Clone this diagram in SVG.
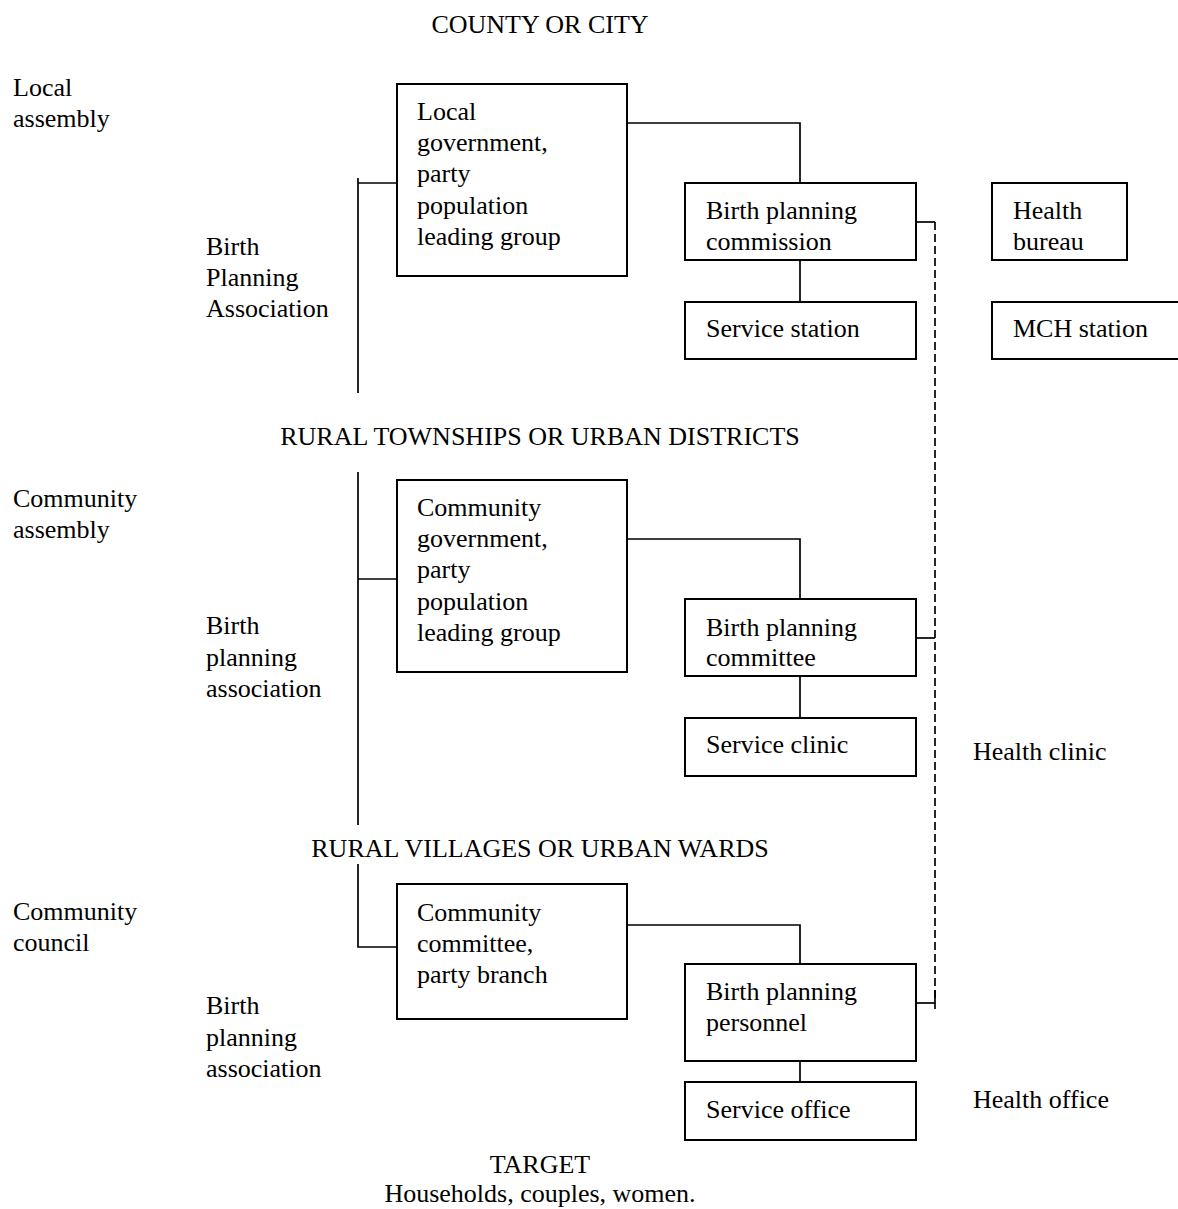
<svg xmlns="http://www.w3.org/2000/svg" width="1178" height="1209" viewBox="0 0 1178 1209">
<style>
text{font-family:"Liberation Serif","Times New Roman",serif;font-size:26px;fill:#000}
.c{text-anchor:middle}
.box{fill:#fff;stroke:#000;stroke-width:2}
.ln{fill:none;stroke:#000;stroke-width:1.7}
.dash{fill:none;stroke:#000;stroke-width:1.7;stroke-dasharray:8,4}
</style>
<defs>
<clipPath id="clipCommittee"><rect x="680" y="640" width="240" height="27"/></clipPath>
</defs>
<g id="connectors">
<polyline class="ln" points="358,178 358,393"/>
<line class="ln" x1="358" y1="183" x2="397" y2="183"/>
<polyline class="ln" points="627,123 800,123 800,183"/>
<line class="ln" x1="800" y1="260" x2="800" y2="302"/>
<line class="ln" x1="358" y1="472" x2="358" y2="825"/>
<line class="ln" x1="358" y1="579" x2="397" y2="579"/>
<polyline class="ln" points="627,539 800,539 800,599"/>
<line class="ln" x1="800" y1="676" x2="800" y2="718"/>
<polyline class="ln" points="358,864 358,947 397,947"/>
<polyline class="ln" points="627,925 800,925 800,964"/>
<line class="ln" x1="800" y1="1061" x2="800" y2="1087"/>
<line class="ln" x1="916" y1="222" x2="935" y2="222"/>
<line class="ln" x1="916" y1="638" x2="935" y2="638"/>
<line class="ln" x1="916" y1="1003" x2="935" y2="1003"/>
<line class="ln" x1="935" y1="990" x2="935" y2="1009"/>
<line class="dash" x1="935" y1="222" x2="935" y2="1000"/>
</g>
<g id="labels">
<text class="c" x="540" y="33">COUNTY OR CITY</text>
<text x="13" y="96">Local</text>
<text x="13" y="127">assembly</text>
<text x="206" y="255">Birth</text>
<text x="206" y="286">Planning</text>
<text x="206" y="317">Association</text>
<text class="c" x="540" y="445">RURAL TOWNSHIPS OR URBAN DISTRICTS</text>
<text x="13" y="507">Community</text>
<text x="13" y="538">assembly</text>
<text x="206" y="634">Birth</text>
<text x="206" y="666">planning</text>
<text x="206" y="697">association</text>
<text x="973" y="760">Health clinic</text>
<text class="c" x="540" y="857">RURAL VILLAGES OR URBAN WARDS</text>
<text x="13" y="920">Community</text>
<text x="13" y="951">council</text>
<text x="206" y="1014">Birth</text>
<text x="206" y="1046">planning</text>
<text x="206" y="1077">association</text>
<text x="973" y="1108">Health office</text>
<text class="c" x="540" y="1173">TARGET</text>
<text class="c" x="540" y="1202">Households, couples, women.</text>
</g>
<g id="local-government">
<rect class="box" x="397" y="84" width="230" height="192"/>
<text x="417" y="120">Local</text>
<text x="417" y="151">government,</text>
<text x="417" y="182">party</text>
<text x="417" y="214">population</text>
<text x="417" y="245">leading group</text>
</g>
<g id="birth-planning-commission">
<rect class="box" x="685" y="183" width="231" height="77"/>
<text x="706" y="219">Birth planning</text>
<text x="706" y="250">commission</text>
</g>
<g id="service-station">
<rect class="box" x="685" y="302" width="231" height="57"/>
<text x="706" y="337">Service station</text>
</g>
<g id="health-bureau">
<rect class="box" x="992" y="183" width="135" height="77"/>
<text x="1013" y="219">Health</text>
<text x="1013" y="250">bureau</text>
</g>
<g id="mch-station">
<rect class="box" x="992" y="302" width="200" height="57"/>
<text x="1013" y="337">MCH station</text>
</g>
<g id="community-government">
<rect class="box" x="397" y="480" width="230" height="192"/>
<text x="417" y="516">Community</text>
<text x="417" y="547">government,</text>
<text x="417" y="578">party</text>
<text x="417" y="610">population</text>
<text x="417" y="641">leading group</text>
</g>
<g id="birth-planning-committee">
<rect class="box" x="685" y="599" width="231" height="77"/>
<text x="706" y="636">Birth planning</text>
<text x="706" y="666" clip-path="url(#clipCommittee)">committee</text>
</g>
<g id="service-clinic">
<rect class="box" x="685" y="718" width="231" height="58"/>
<text x="706" y="753">Service clinic</text>
</g>
<g id="community-committee">
<rect class="box" x="397" y="884" width="230" height="135"/>
<text x="417" y="921">Community</text>
<text x="417" y="952">committee,</text>
<text x="417" y="983">party branch</text>
</g>
<g id="birth-planning-personnel">
<rect class="box" x="685" y="964" width="231" height="97"/>
<text x="706" y="1000">Birth planning</text>
<text x="706" y="1031">personnel</text>
</g>
<g id="service-office">
<rect class="box" x="685" y="1082" width="231" height="58"/>
<text x="706" y="1118">Service office</text>
</g>
</svg>
